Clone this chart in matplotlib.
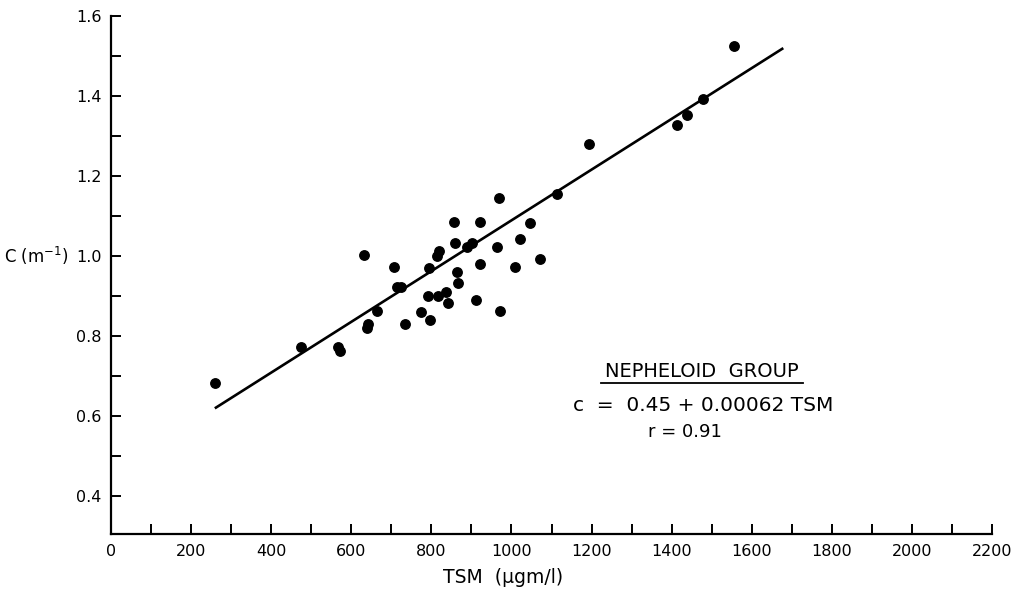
import matplotlib
matplotlib.use("Agg")
import matplotlib.pyplot as plt
from matplotlib.ticker import MultipleLocator, FixedLocator

# ---- data ----
tsm = [260, 474, 566, 572, 632, 641, 638, 663, 707, 715, 724, 735, 773, 793,
       792, 796, 816, 818, 815, 836, 842, 856, 858, 863, 866, 888, 901, 911,
       921, 921, 963, 969, 972, 1010, 1021, 1045, 1071, 1113, 1193, 1413,
       1439, 1477, 1556]
c_vals = [0.682, 0.772, 0.772, 0.762, 1.003, 0.830, 0.819, 0.862, 0.972, 0.922,
          0.922, 0.831, 0.859, 0.970, 0.901, 0.841, 0.901, 1.012, 1.000, 0.911,
          0.883, 1.085, 1.032, 0.960, 0.933, 1.023, 1.032, 0.891, 1.085, 0.981,
          1.023, 1.144, 0.862, 0.972, 1.042, 1.083, 0.993, 1.154, 1.279, 1.328,
          1.352, 1.392, 1.524]
fit_x = [262, 1676]
fit_y = [0.621, 1.518]

x_ticklabels = ["0", "200", "400", "600", "800", "1000", "1200", "1400",
                "1600", "1800", "2000", "2200"]
y_ticklabels = ["0.4", "0.6", "0.8", "1.0", "1.2", "1.4", "1.6"]

title_text = "NEPHELOID  GROUP"
eq_text = "c  =  0.45 + 0.00062 TSM"
r_text = "r = 0.91"

# ---- figure ----
plt.rcParams['font.family'] = ['DejaVu Sans']
fig = plt.figure(figsize=(10.26, 5.91), dpi=100)
ax = fig.add_axes([0.1082, 0.0964, 0.8587, 0.8765])

ax.plot(tsm, c_vals, 'o', color='black', ms=6.8, mec='black')
ax.plot(fit_x, fit_y, '-', color='black', lw=1.9)

ax.set_xlim(0, 2200)
ax.set_ylim(0.305, 1.6)

for s in ['top', 'right']:
    ax.spines[s].set_visible(False)
for s in ['left', 'bottom']:
    ax.spines[s].set_linewidth(1.6)

xt = [int(t) for t in x_ticklabels]
ax.xaxis.set_major_locator(FixedLocator(xt))
ax.set_xticklabels(x_ticklabels)
ax.xaxis.set_minor_locator(MultipleLocator(100))
yt = [float(t) for t in y_ticklabels]
ax.yaxis.set_major_locator(FixedLocator(yt))
ax.set_yticklabels(y_ticklabels)
ax.yaxis.set_minor_locator(MultipleLocator(0.1))

ax.tick_params(which='both', direction='in', length=7, width=1.4, color='black')
ax.tick_params(axis='x', which='major', pad=7, labelsize=11.5)
ax.tick_params(axis='y', which='major', pad=7, labelsize=11.5)

ax.set_xlabel("TSM  (\u03bcgm/l)", fontsize=13.5)
ax.xaxis.set_label_coords(0.445, -0.066)
ax.set_ylabel("C (m$^{-1}$)", fontsize=12, rotation=0, va='center', ha='center')
ax.yaxis.set_label_coords(-0.085, 0.537)

ax.text(0.6705, 0.313, title_text, transform=ax.transAxes, fontsize=14,
        ha='center', va='center')
ax.plot([0.556, 0.785], [0.292, 0.292], transform=ax.transAxes, color='black',
        lw=1.3, clip_on=False)
ax.text(0.672, 0.249, eq_text, transform=ax.transAxes, fontsize=14.5,
        ha='center', va='center')
ax.text(0.651, 0.197, r_text, transform=ax.transAxes, fontsize=13,
        ha='center', va='center')

fig.savefig("out.png", dpi=100)
